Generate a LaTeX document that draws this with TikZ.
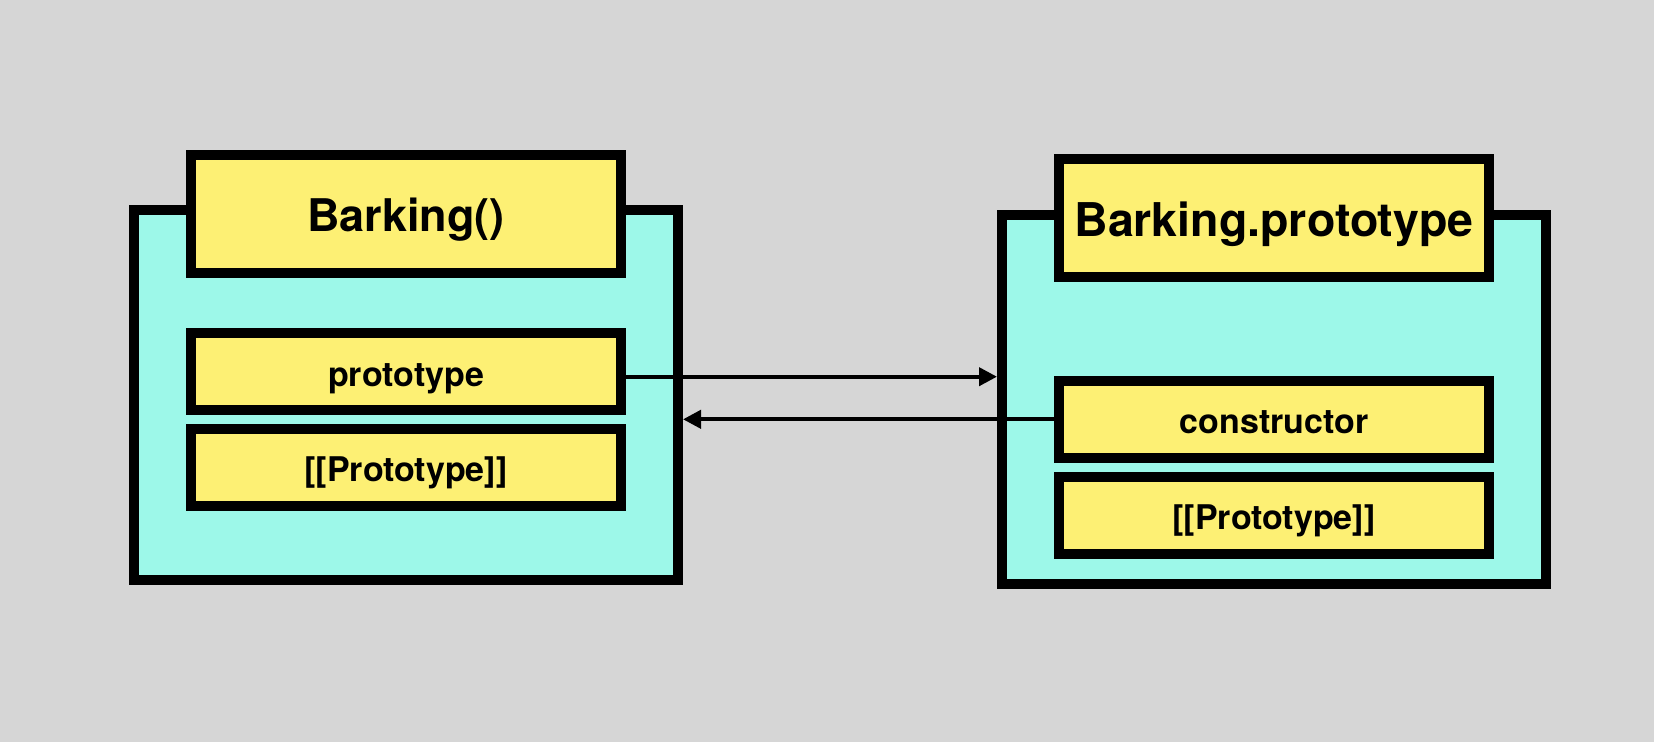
\documentclass[tikz,border=0pt]{standalone}
\usepackage{fontspec}
\setmainfont{TeX Gyre Heros}
\usetikzlibrary{arrows.meta}
\definecolor{bg}{RGB}{214,214,214}
\definecolor{cyanfill}{RGB}{157,248,233}
\definecolor{yel}{RGB}{253,240,116}
\tikzset{
  outerbox/.style={draw=black, line width=10pt, fill=cyanfill, inner sep=0pt, minimum width=544pt, minimum height=370pt},
  titlebox/.style={draw=black, line width=10pt, fill=yel, inner sep=0pt, minimum width=430pt, minimum height=117.7pt, text height=35.6pt, text depth=0pt, font=\bfseries\fontsize{45}{54}\selectfont},
  fieldbox/.style={draw=black, line width=10pt, fill=yel, inner sep=0pt, minimum width=430pt, minimum height=76.7pt, text height=28.6pt, text depth=0pt, font=\bfseries\fontsize{34}{41}\selectfont},
  link/.style={draw=black, line width=4pt, -{Triangle[length=18pt,width=18pt]}, shorten >=0pt}
}
\begin{document}
\begin{tikzpicture}[x=1pt,y=-1pt]
\fill[bg] (0,0) rectangle (1654,742);
\useasboundingbox (0,0) rectangle (1654,742);
% left object
\node[outerbox] (lbox) at (406,395) {};
\node[titlebox] (ltitle) at (406,213.9) {Barking()};
\node[fieldbox] (lproto) at (406,371.7) {prototype};
\node[fieldbox] (lint) at (406,467.3) {[[Prototype]]};
% right object
\node[outerbox, minimum height=369pt] (rbox) at (1274,399.5) {};
\node[titlebox, font=\bfseries\fontsize{46.5}{56}\selectfont, text height=36.5pt] (rtitle) at (1274,217.9) {Barking.prototype};
\node[fieldbox] (rcons) at (1274,419.3) {constructor};
\node[fieldbox] (rint) at (1274,515.3) {[[Prototype]]};
% connectors
\coordinate (a1) at ([yshift=-5pt]lproto.east);
\draw[link] (a1) -- (a1 -| rbox.west);
\draw[link] (rcons.west) -- (rcons.west -| lbox.east);
\end{tikzpicture}
\end{document}
